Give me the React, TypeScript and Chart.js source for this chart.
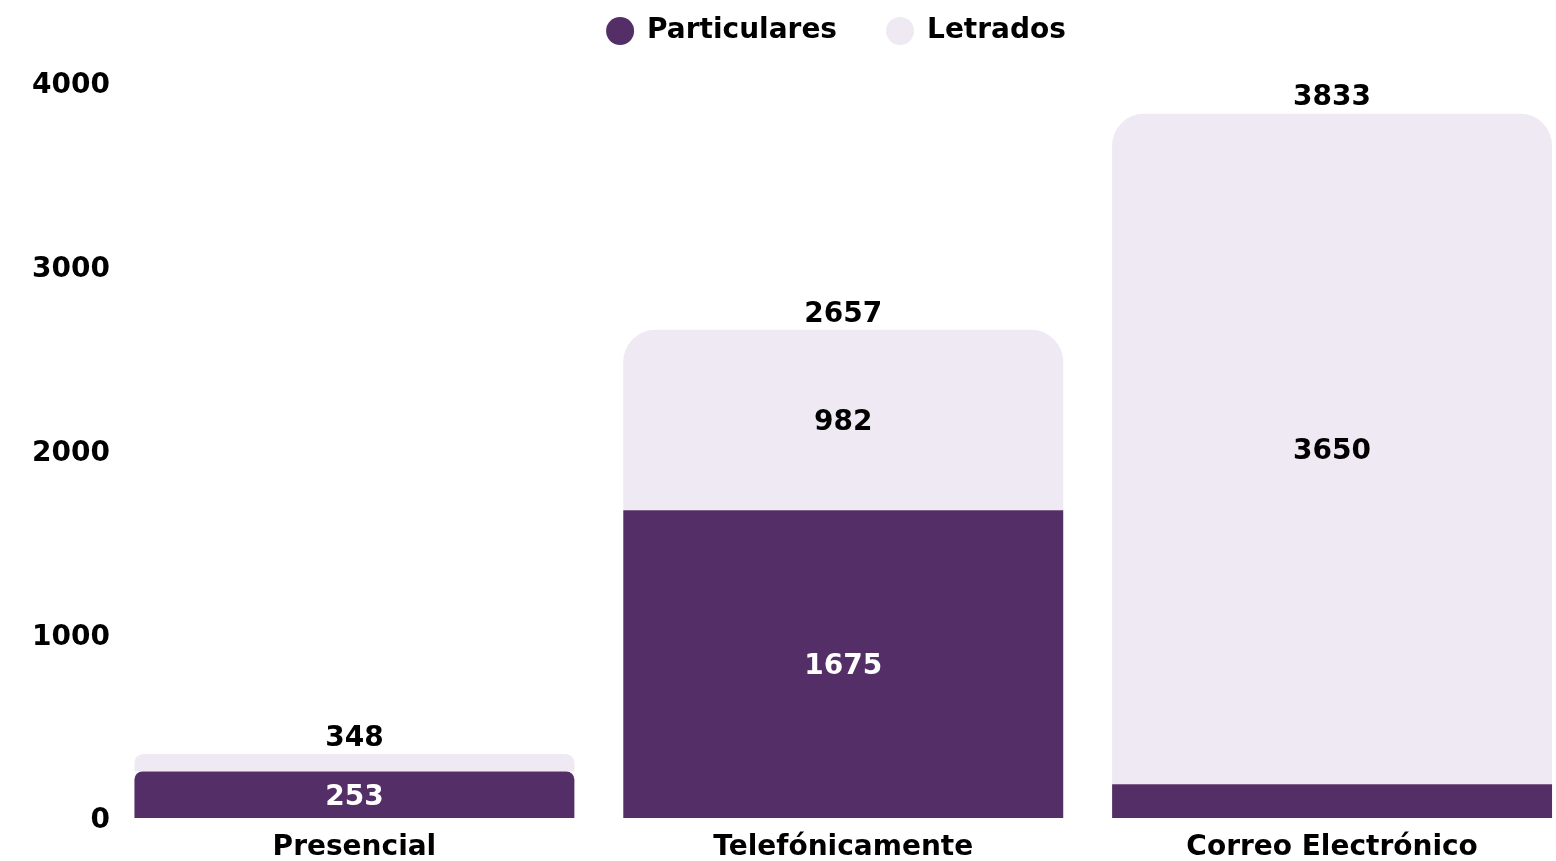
import React, { useEffect, useRef } from 'react';
import { Chart, registerables } from 'chart.js';

Chart.register(...registerables);

const categories = ['Presencial', 'Telefónicamente', 'Correo Electrónico'];
const seriesNames = ['Particulares', 'Letrados'];
const particulares = [253, 1675, 183];
const letrados = [95, 982, 3650];
const yTicks = [0, 1000, 2000, 3000, 4000];

const DARK = '#542E66';
const LIGHT = '#EFE9F4';
const FONT_FAMILY = '"DejaVu Sans", sans-serif';
const FONT_SIZE = 28;
const FONT_WEIGHT = 'bold';
const TOP_RADIUS = 32;
const TEXT_SHIFT = 3;

const legendSpacing = {
  id: 'legendSpacing',
  beforeLayout(chart: any) {
    const lg = chart.legend;
    if (lg && !lg._patched) {
      const fit = lg.fit;
      lg.fit = function () {
        fit.call(this);
        this.height += 28;
      };
      lg._patched = true;
    }
  },
};

const valueLabels = {
  id: 'valueLabels',
  afterDatasetsDraw(chart: any) {
    const ctx = chart.ctx;
    ctx.save();
    ctx.font = `${FONT_WEIGHT} ${FONT_SIZE}px ${FONT_FAMILY}`;
    ctx.textAlign = 'center';
    ctx.textBaseline = 'middle';
    const n = chart.data.labels.length;
    for (let j = 0; j < n; j++) {
      let top = Infinity;
      let total = 0;
      let cx = 0;
      chart.data.datasets.forEach((ds: any, i: number) => {
        const el = chart.getDatasetMeta(i).data[j];
        const v = ds.data[j];
        total += v;
        const { x, y, base } = el.getProps(['x', 'y', 'base'], true);
        cx = x;
        top = Math.min(top, y);
        if (Math.abs(base - y) >= 40) {
          ctx.fillStyle = i === 0 ? '#FFFFFF' : '#000000';
          ctx.fillText(String(v), x, (y + base) / 2 + TEXT_SHIFT);
        }
      });
      ctx.fillStyle = '#000000';
      ctx.fillText(String(total), cx, top - 18.5 + TEXT_SHIFT);
    }
    ctx.restore();
  },
};

// Continue the rounded top of the stack into the dark segment when the light one is thin
const darkRadius = (c: any) => {
  const y = c.chart.scales && c.chart.scales.y;
  if (!y) return 0;
  const v = c.chart.data.datasets[1].data[c.dataIndex];
  const h = Math.abs(y.getPixelForValue(0) - y.getPixelForValue(v));
  if (h >= TOP_RADIUS) return 0;
  const r = Math.max(0, (TOP_RADIUS - h) * 0.55);
  return { topLeft: r, topRight: r, bottomLeft: 0, bottomRight: 0 };
};

export default function App() {
  const ref = useRef<HTMLCanvasElement | null>(null);

  useEffect(() => {
    if (!ref.current) return;
    const font = { family: FONT_FAMILY, size: FONT_SIZE, weight: FONT_WEIGHT as any };
    const chart = new Chart(ref.current, {
      type: 'bar',
      data: {
        labels: categories,
        datasets: [
          {
            label: seriesNames[0],
            data: particulares,
            backgroundColor: DARK,
            borderWidth: 0,
            borderRadius: darkRadius,
            barPercentage: 0.9,
            categoryPercentage: 1.0,
          },
          {
            label: seriesNames[1],
            data: letrados,
            backgroundColor: LIGHT,
            borderWidth: 0,
            borderRadius: { topLeft: TOP_RADIUS, topRight: TOP_RADIUS, bottomLeft: 0, bottomRight: 0 },
            barPercentage: 0.9,
            categoryPercentage: 1.0,
          },
        ],
      },
      options: {
        responsive: false,
        animation: false,
        layout: { padding: 0 },
        plugins: {
          tooltip: { enabled: false },
          legend: {
            position: 'top',
            labels: {
              usePointStyle: true,
              pointStyle: 'circle',
              boxWidth: 26,
              boxHeight: 19.8,
              padding: 50,
              color: '#000000',
              font,
            },
          },
        },
        scales: {
          x: {
            stacked: true,
            grid: { display: false, drawTicks: false },
            border: { display: false },
            ticks: { color: '#000000', font, padding: 13, maxRotation: 0, autoSkip: false },
            afterFit: (s: any) => {
              s.height = 43;
            },
          },
          y: {
            stacked: true,
            min: yTicks[0],
            max: yTicks[yTicks.length - 1],
            grid: { display: false, drawTicks: false },
            border: { display: false },
            ticks: {
              stepSize: yTicks[1] - yTicks[0],
              color: '#000000',
              font,
              padding: 0,
              labelOffset: TEXT_SHIFT,
              callback: (v: any) => String(v),
            },
            afterFit: (s: any) => {
              s.width = 102;
            },
          },
          ySpacer: {
            type: 'linear',
            position: 'right',
            display: true,
            grid: { display: false, drawTicks: false },
            border: { display: false },
            ticks: { display: false },
            afterFit: (s: any) => {
              s.width = 88.5;
            },
          },
        },
      } as any,
      plugins: [legendSpacing, valueLabels],
    });
    return () => chart.destroy();
  }, []);

  return (
    <div style={{ position: 'fixed', inset: 0, overflow: 'hidden', background: '#FFFFFF' }}>
      <canvas
        ref={ref}
        width={1657}
        height={894}
        style={{ position: 'absolute', left: 8, top: -33, width: 1657, height: 894 }}
      />
    </div>
  );
}
